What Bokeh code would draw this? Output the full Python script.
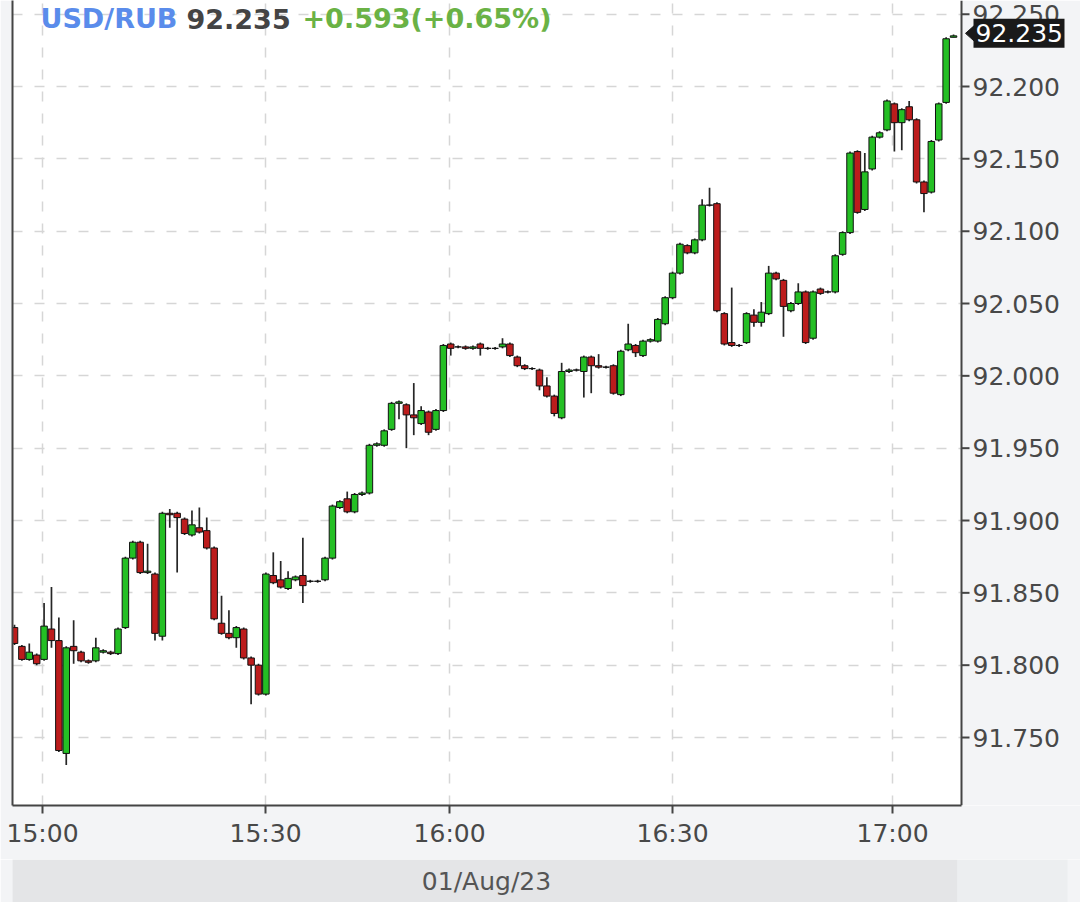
from bokeh.plotting import figure
from bokeh.layouts import column
from bokeh.models import FixedTicker, LinearAxis, Label, Range1d, ColumnDataSource
from bokeh.core.properties import value
from bokeh.embed import file_html
from bokeh.resources import INLINE

# ---- data (1-minute candles, 01/Aug/23) ----
opens = [91.826, 91.813, 91.804, 91.807, 91.804, 91.825, 91.817, 91.739, 91.813, 91.809,
         91.803, 91.803, 91.809, 91.809, 91.808, 91.826, 91.874, 91.885, 91.864, 91.863,
         91.820, 91.905, 91.905, 91.901, 91.890, 91.895, 91.893, 91.881, 91.829, 91.822,
         91.819, 91.825, 91.805, 91.800, 91.780, 91.862, 91.859, 91.853, 91.859, 91.862,
         91.858, 91.858, 91.859, 91.874, 91.909, 91.915, 91.906, 91.918, 91.919, 91.952,
         91.952, 91.963, 91.981, 91.980, 91.973, 91.967, 91.975, 91.963, 91.976, 92.022,
         92.020, 92.020, 92.019, 92.022, 92.019, 92.019, 92.020, 92.022, 92.013, 92.007,
         92.005, 92.004, 91.993, 91.986, 91.971, 92.003, 92.004, 92.003, 92.013, 92.007,
         92.006, 92.007, 91.987, 92.018, 92.021, 92.014, 92.024, 92.024, 92.036, 92.054,
         92.071, 92.090, 92.085, 92.094, 92.118, 92.119, 92.043, 92.023, 92.021, 92.023,
         92.042, 92.037, 92.043, 92.071, 92.066, 92.045, 92.050, 92.058, 92.026, 92.060,
         92.058, 92.058, 92.084, 92.099, 92.155, 92.115, 92.143, 92.165, 92.170, 92.188,
         92.175, 92.186, 92.177, 92.134, 92.127, 92.163, 92.189, 92.234]
highs = [91.828, 91.814, 91.815, 91.808, 91.843, 91.854, 91.833, 91.813, 91.831, 91.810,
         91.804, 91.819, 91.811, 91.810, 91.826, 91.875, 91.886, 91.886, 91.884, 91.864,
         91.906, 91.908, 91.906, 91.902, 91.907, 91.909, 91.902, 91.882, 91.848, 91.838,
         91.827, 91.826, 91.806, 91.801, 91.864, 91.878, 91.872, 91.865, 91.862, 91.888,
         91.859, 91.859, 91.875, 91.911, 91.914, 91.920, 91.919, 91.920, 91.953, 91.954,
         91.963, 91.982, 91.983, 91.981, 91.995, 91.979, 91.976, 91.977, 92.022, 92.023,
         92.021, 92.021, 92.021, 92.023, 92.020, 92.020, 92.026, 92.023, 92.014, 92.008,
         92.006, 92.005, 91.999, 91.987, 92.009, 92.005, 92.005, 92.014, 92.014, 92.015,
         92.007, 92.008, 92.018, 92.036, 92.022, 92.025, 92.026, 92.040, 92.055, 92.072,
         92.092, 92.091, 92.095, 92.122, 92.130, 92.120, 92.044, 92.061, 92.022, 92.044,
         92.046, 92.051, 92.076, 92.072, 92.067, 92.051, 92.064, 92.059, 92.059, 92.061,
         92.059, 92.084, 92.100, 92.155, 92.156, 92.154, 92.166, 92.169, 92.191, 92.189,
         92.185, 92.190, 92.178, 92.135, 92.163, 92.189, 92.234, 92.236]
lows = [91.814, 91.803, 91.803, 91.800, 91.803, 91.812, 91.740, 91.731, 91.801, 91.802,
        91.801, 91.802, 91.808, 91.807, 91.807, 91.825, 91.873, 91.863, 91.863, 91.817,
        91.817, 91.895, 91.864, 91.890, 91.889, 91.891, 91.880, 91.831, 91.821, 91.818,
        91.812, 91.804, 91.773, 91.779, 91.779, 91.856, 91.853, 91.852, 91.858, 91.843,
        91.857, 91.857, 91.858, 91.873, 91.908, 91.905, 91.905, 91.917, 91.918, 91.951,
        91.951, 91.962, 91.970, 91.950, 91.959, 91.966, 91.959, 91.962, 91.975, 92.014,
        92.019, 92.018, 92.018, 92.014, 92.018, 92.018, 92.019, 92.013, 92.006, 92.004,
        92.004, 91.990, 91.985, 91.972, 91.970, 92.002, 92.003, 91.985, 91.988, 92.005,
        92.005, 91.987, 91.986, 92.017, 92.013, 92.013, 92.023, 92.023, 92.035, 92.053,
        92.070, 92.084, 92.084, 92.093, 92.117, 92.044, 92.021, 92.020, 92.020, 92.022,
        92.034, 92.034, 92.042, 92.066, 92.027, 92.044, 92.049, 92.022, 92.025, 92.056,
        92.057, 92.057, 92.083, 92.098, 92.112, 92.114, 92.142, 92.164, 92.169, 92.155,
        92.156, 92.176, 92.133, 92.113, 92.126, 92.162, 92.188, 92.234]
closes = [91.815, 91.804, 91.809, 91.801, 91.827, 91.817, 91.741, 91.812, 91.810, 91.803,
          91.802, 91.812, 91.810, 91.808, 91.825, 91.874, 91.885, 91.864, 91.865, 91.822,
          91.905, 91.904, 91.902, 91.891, 91.897, 91.892, 91.881, 91.832, 91.822, 91.819,
          91.826, 91.805, 91.800, 91.780, 91.863, 91.857, 91.854, 91.860, 91.861, 91.855,
          91.858, 91.858, 91.874, 91.910, 91.913, 91.906, 91.918, 91.919, 91.952, 91.953,
          91.962, 91.981, 91.982, 91.973, 91.971, 91.976, 91.961, 91.976, 92.021, 92.019,
          92.020, 92.019, 92.020, 92.019, 92.019, 92.019, 92.022, 92.014, 92.007, 92.005,
          92.005, 91.993, 91.986, 91.974, 92.003, 92.004, 92.004, 92.013, 92.007, 92.006,
          92.006, 91.988, 92.017, 92.022, 92.016, 92.024, 92.025, 92.039, 92.054, 92.071,
          92.091, 92.085, 92.094, 92.118, 92.118, 92.045, 92.022, 92.021, 92.021, 92.043,
          92.037, 92.044, 92.071, 92.067, 92.048, 92.050, 92.058, 92.023, 92.058, 92.057,
          92.058, 92.083, 92.099, 92.154, 92.113, 92.141, 92.165, 92.168, 92.190, 92.175,
          92.184, 92.177, 92.134, 92.126, 92.162, 92.188, 92.233, 92.235]

time_tick_positions = [3.8, 33.95, 58.85, 89.0, 118.75]
time_tick_labels = ["15:00", "15:30", "16:00", "16:30", "17:00"]
price_ticks = [91.75, 91.80, 91.85, 91.90, 91.95, 92.00, 92.05, 92.10, 92.15, 92.20, 92.25]
symbol = "USD/RUB"
last_price = 92.235
change = 0.593
change_pct = 0.65
date_label = "01/Aug/23"

# ---- styling / layout constants ----
GREEN = "#24bf24"
RED = "#bc1c1c"
FONT = "DejaVu Sans"
W, H_MAIN, H_BAND = 1080, 859, 43
FRAME_L, FRAME_B = 12, 805          # frame left edge, frame bottom (px)
AXIS_PX = 961                        # price-axis line (px)
PX_PER_BAR = 7.394                   # horizontal scale
BAR0_PX = 14                         # centre of first bar (px)
PX_PER_UNIT = 1446.7                 # vertical scale (px per 1.000 RUB)


def bx(px):  # page px -> bar-index units
    return (px - BAR0_PX) / PX_PER_BAR


x_lo, x_hi = bx(FRAME_L), bx(W)
x_axis = bx(AXIS_PX)
y_hi = 92.2 + 86 / PX_PER_UNIT
y_lo = y_hi - FRAME_B / PX_PER_UNIT
dx = 1 / PX_PER_BAR
dy = 1 / PX_PER_UNIT

x = list(range(len(opens)))
src = ColumnDataSource(dict(
    x=x, high=highs, low=lows,
    top=[max(o, c) for o, c in zip(opens, closes)],
    bottom=[min(o, c) for o, c in zip(opens, closes)],
    color=[GREEN if c >= o else RED for o, c in zip(opens, closes)],
))

p = figure(width=W, height=H_MAIN, output_backend="svg", toolbar_location=None,
           x_range=Range1d(x_lo, x_hi), y_range=Range1d(y_lo, y_hi),
           y_axis_location=None,
           min_border_left=FRAME_L, min_border_right=0, min_border_top=0,
           min_border_bottom=H_MAIN - FRAME_B,
           background_fill_color="white", border_fill_color="#f3f4f6",
           outline_line_color=None)

# grids
p.xgrid.ticker = FixedTicker(ticks=time_tick_positions)
p.ygrid.ticker = FixedTicker(ticks=price_ticks)
for g in (p.xgrid[0], p.ygrid[0]):
    g.grid_line_color = "#d6d6d6"
    g.grid_line_width = 1.5
    g.grid_line_dash = "10 12"

# candles
p.segment(x0="x", x1="x", y0="low", y1="high", source=src, line_color="#262626", line_width=1.7)
p.vbar(x="x", width=0.88, top="top", bottom="bottom", source=src,
       fill_color="color", line_color="#111111", line_width=1)

# right-hand price scale panel (drawn inside the frame)
p.quad(left=[x_axis], right=[x_hi], bottom=[y_lo], top=[y_hi],
       fill_color="#f3f4f6", line_color=None)
p.segment(x0=[x_axis], x1=[x_axis], y0=[y_lo], y1=[y_hi], line_color="#444444", line_width=2)
tick_src = ColumnDataSource(dict(y=price_ticks, label=[f"{t:.3f}" for t in price_ticks]))
p.segment(x0=x_axis, x1=x_axis + 8 * dx, y0="y", y1="y", source=tick_src,
          line_color="#444444", line_width=2)
p.text(x=x_axis + 11 * dx, y="y", text="label", source=tick_src,
       text_font=value(FONT), text_font_size="25px", text_color="#484848",
       text_align="left", text_baseline="middle")

# last price marker
box_top = last_price + 17 * dy
box_bot = last_price - 12 * dy
box_mid = (box_top + box_bot) / 2
p.patch(x=[x_axis + 4 * dx, x_axis + 13 * dx, x_axis + 13 * dx],
        y=[box_mid, box_mid + 8 * dy, box_mid - 8 * dy], fill_color="#1a1a1a", line_color="#1a1a1a")
p.quad(left=[x_axis + 12 * dx], right=[x_axis + 103 * dx], bottom=[box_bot], top=[box_top],
       fill_color="#1a1a1a", line_color=None)
p.text(x=[x_axis + 14 * dx], y=[box_mid], text=[f"{last_price:.3f}"], text_font=value(FONT),
       text_font_size="25px", text_color="white", text_align="left", text_baseline="middle")

# axes: time axis below, plain line on the left
xax = p.xaxis[0]
xax.ticker = FixedTicker(ticks=time_tick_positions)
xax.major_label_overrides = {t: l for t, l in zip(time_tick_positions, time_tick_labels)}
xax.bounds = (x_lo, x_axis)
xax.major_tick_out = 8
xax.major_tick_in = 0
xax.minor_tick_out = 0
xax.minor_tick_in = 0
xax.axis_line_color = "#444444"
xax.axis_line_width = 2
xax.major_tick_line_color = "#444444"
xax.major_tick_line_width = 2
xax.major_label_standoff = 5
xax.major_label_text_font = FONT
xax.major_label_text_font_size = "25px"
xax.major_label_text_color = "#484848"

left_line = LinearAxis(ticker=FixedTicker(ticks=[]), major_tick_out=0, major_tick_in=0,
                       minor_tick_out=0, minor_tick_in=0, major_label_standoff=0,
                       major_label_text_font_size="0px",
                       axis_line_color="#444444", axis_line_width=2)
p.add_layout(left_line, "left")

# header text
title_y = 92.247
p.add_layout(Label(x=bx(40), y=title_y, text=symbol, text_font=FONT, text_font_style="bold",
                   text_font_size="27px", text_color="#5a8ceb", text_baseline="middle"))
p.add_layout(Label(x=bx(186), y=title_y, text=f"{last_price:.3f}", text_font=FONT,
                   text_font_style="bold", text_font_size="27px", text_color="#444444",
                   text_baseline="middle"))
p.add_layout(Label(x=bx(302), y=title_y, text=f"+{change:.3f}(+{change_pct:.2f}%)", text_font=FONT,
                   text_font_style="bold", text_font_size="27px", text_color="#6ab245",
                   text_baseline="middle"))

# date band (its frame is aligned with the main frame by the column layout)
b = figure(width=W, height=H_BAND, output_backend="svg", toolbar_location=None,
           x_range=Range1d(FRAME_L, W), y_range=Range1d(0, 1),
           x_axis_location=None, y_axis_location=None,
           min_border_left=0, min_border_right=0, min_border_top=0, min_border_bottom=0,
           background_fill_color="#f3f4f6", border_fill_color="#f3f4f6", outline_line_color=None)
b.grid.visible = False
b.quad(left=[10, 957], right=[957, 1067], bottom=[0, 0], top=[1, 1],
       fill_color=["#e4e5e7", "#eceef0"], line_color=None)
b.add_layout(Label(x=486, y=0.5, text=date_label, text_font=FONT, text_font_size="25px",
                   text_color="#555555", text_align="center", text_baseline="middle"))

layout = column(p, b, spacing=0)
open("out.html", "w").write(file_html(layout, INLINE))
